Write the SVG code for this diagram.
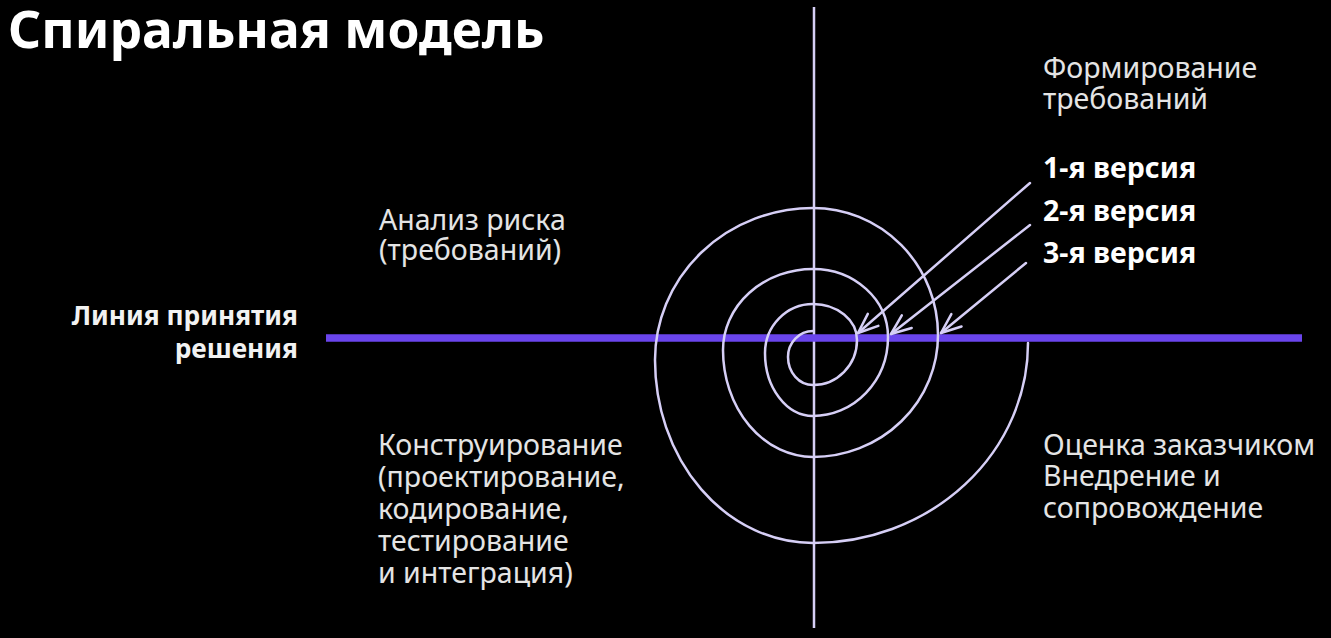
<svg xmlns="http://www.w3.org/2000/svg" width="1331" height="638" viewBox="0 0 1331 638">
<style>
.t{font-family:"Noto Sans","Open Sans",sans-serif;font-size:28.5px;fill:#e4e4e4}
.b{font-family:"Noto Sans","Open Sans",sans-serif;font-size:28.5px;font-weight:bold;fill:#ffffff}
.d{font-family:"Noto Sans","Open Sans",sans-serif;font-size:26.3px;font-weight:bold;fill:#f2f2f2}
.ttl{font-family:"Noto Sans","Open Sans",sans-serif;font-size:51.5px;font-weight:bold;fill:#ffffff}
.ln{fill:none;stroke:#d6cff6;stroke-width:2.5;stroke-linecap:round;stroke-linejoin:round}
</style>
<defs>
<marker id="ah" markerUnits="userSpaceOnUse" markerWidth="24" markerHeight="20" viewBox="0 0 24 20" refX="22" refY="10" orient="auto">
<path d="M2,2 L22,10 L2,18" fill="none" stroke="#d6cff6" stroke-width="2.5" stroke-linecap="round" stroke-linejoin="round"/>
</marker>
</defs>
<rect width="1331" height="638" fill="#000000"/>
<g id="axes">
<line x1="814" y1="7" x2="814" y2="628" stroke="#d6cff6" stroke-width="2.5"/>
<line x1="326" y1="338" x2="1302" y2="338" stroke="#6a45ec" stroke-width="7.5"/>
</g>
<g id="spiral">
<path class="ln" d="M813,331 A25,26 0 0 0 788,357 A25,28 0 0 0 813,385 A44,45 0 0 0 857,340 A44,36 0 0 0 813,304 A48,49 0 0 0 765,353 A48,63 0 0 0 813,416 A75,79 0 0 0 888,337 A75,68 0 0 0 813,269 A90,81 0 0 0 723,350 A90,107 0 0 0 813,457 A125,122 0 0 0 938,335 A125,127 0 0 0 813,208 A158,152 0 0 0 655,360 A158,183 0 0 0 813,543 A215,200 0 0 0 1028,343"/>
</g>
<g id="connectors">
<line class="ln" x1="1030" y1="183" x2="858" y2="333" marker-end="url(#ah)"/>
<line class="ln" x1="1030" y1="225" x2="891" y2="334" marker-end="url(#ah)"/>
<line class="ln" x1="1026" y1="263" x2="941" y2="333" marker-end="url(#ah)"/>
</g>
<g id="title"><text class="ttl" x="8" y="48">Спиральная модель</text></g>
<g id="req"><text class="t" x="1043" y="78">Формирование</text><text class="t" x="1043" y="109">требований</text></g>
<g id="versions">
<text class="b" x="1043" y="178">1-я версия</text>
<text class="b" x="1043" y="221">2-я версия</text>
<text class="b" x="1043" y="263">3-я версия</text>
</g>
<g id="risk"><text class="t" x="379" y="230">Анализ риска</text><text class="t" x="379" y="260">(требований)</text></g>
<g id="decision"><text class="d" x="298" y="325" text-anchor="end">Линия принятия</text><text class="d" x="298" y="358" text-anchor="end">решения</text></g>
<g id="construct">
<text class="t" x="378" y="455">Конструирование</text>
<text class="t" x="378" y="487">(проектирование,</text>
<text class="t" x="378" y="519">кодирование,</text>
<text class="t" x="378" y="551">тестирование</text>
<text class="t" x="378" y="583">и интеграция)</text>
</g>
<g id="eval">
<text class="t" x="1043" y="455">Оценка заказчиком</text>
<text class="t" x="1043" y="486">Внедрение и</text>
<text class="t" x="1043" y="518">сопровождение</text>
</g>
</svg>
